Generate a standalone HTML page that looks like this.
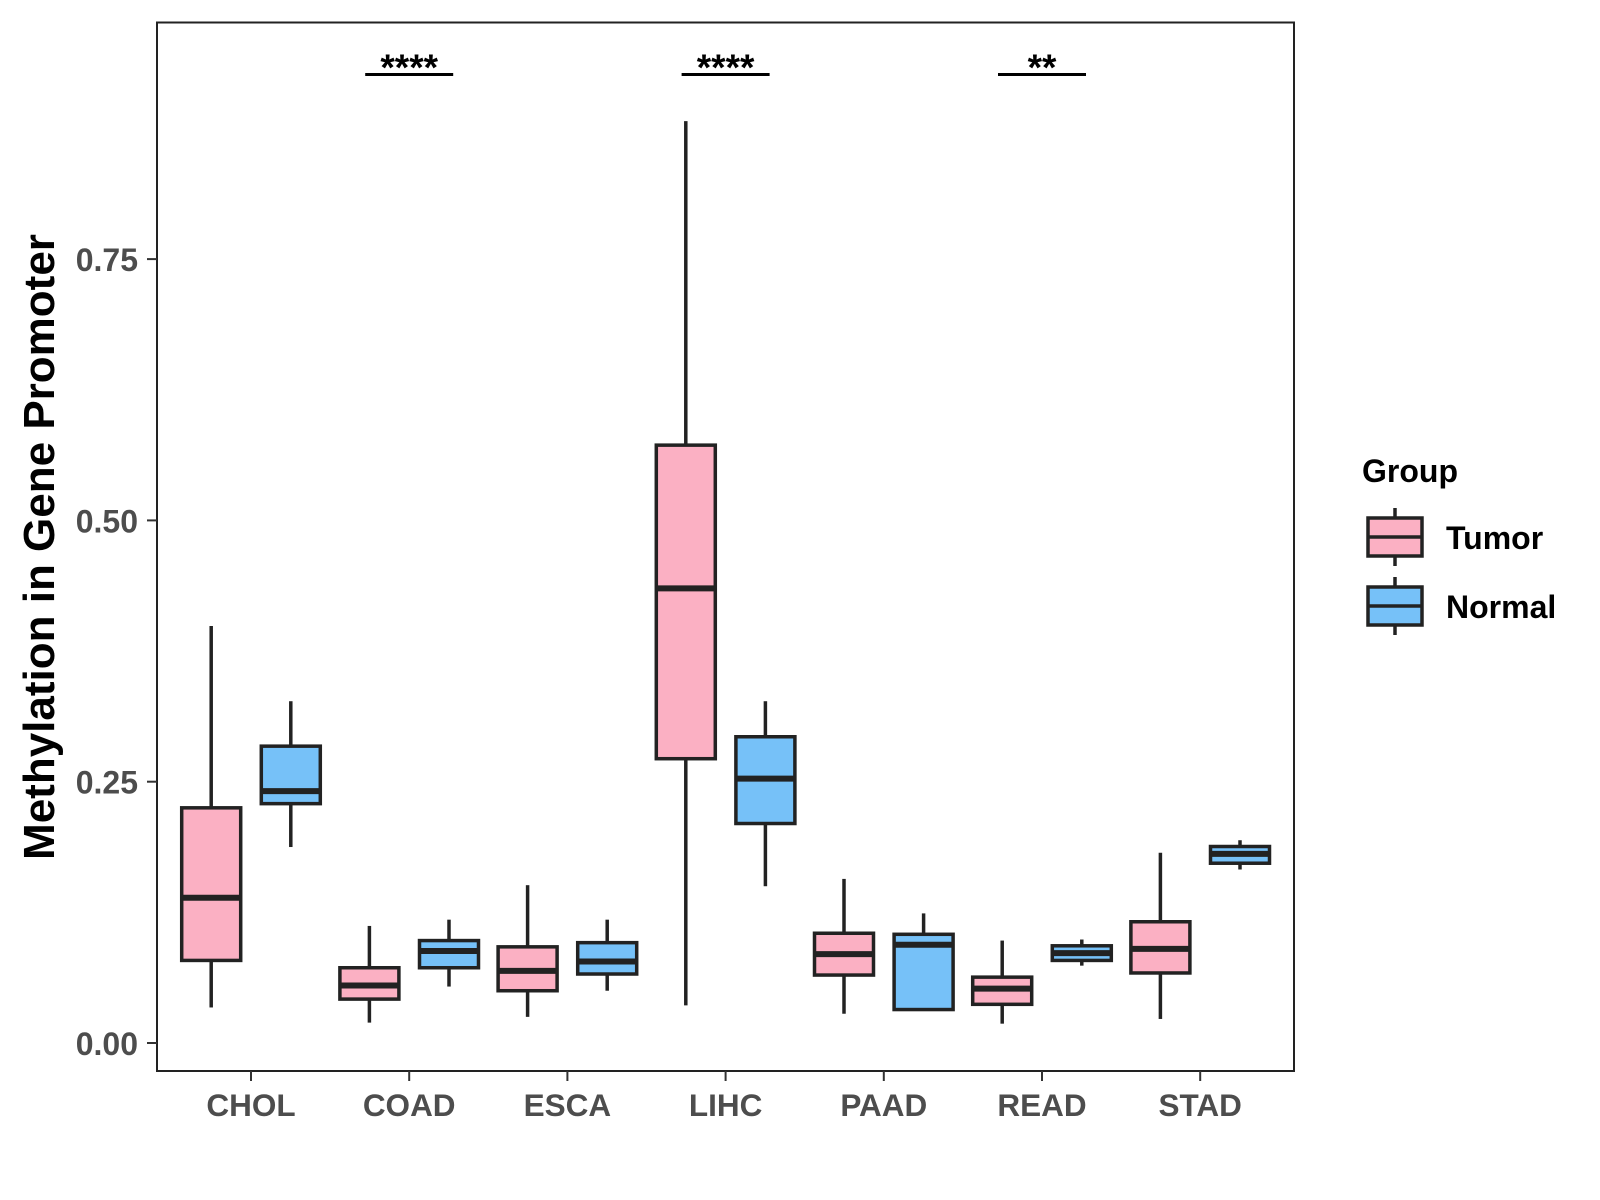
<!DOCTYPE html>
<html><head><meta charset="utf-8"><style>
html,body{margin:0;padding:0;background:#fff;}
svg{display:block;font-family:"Liberation Sans",Arial,sans-serif;font-weight:bold;}
</style></head><body>
<svg id="chart" width="1600" height="1200" xmlns="http://www.w3.org/2000/svg">
<rect width="1600" height="1200" fill="#fff"/>
<g id="plot"></g>
</svg>
<script>
const categories = ["CHOL","COAD","ESCA","LIHC","PAAD","READ","STAD"];
const tumorMin = [0.034,0.0195,0.025,0.036,0.028,0.0185,0.023];
const tumorQ1  = [0.079,0.042,0.050,0.272,0.065,0.037,0.067];
const tumorMed = [0.139,0.055,0.069,0.435,0.085,0.052,0.090];
const tumorQ3  = [0.225,0.072,0.092,0.572,0.105,0.063,0.116];
const tumorMax = [0.399,0.112,0.151,0.882,0.157,0.098,0.182];
const normalMin = [0.1875,0.054,0.050,0.150,0.032,0.074,0.166];
const normalQ1  = [0.229,0.072,0.066,0.210,0.032,0.079,0.172];
const normalMed = [0.241,0.088,0.078,0.253,0.094,0.086,0.181];
const normalQ3  = [0.284,0.098,0.096,0.293,0.104,0.093,0.188];
const normalMax = [0.327,0.118,0.118,0.327,0.124,0.099,0.194];
const yTicks = [0, 0.25, 0.5, 0.75];
const yTickLabels = ["0.00","0.25","0.50","0.75"];
const sigCats = ["COAD","LIHC","READ"];
const sigLabels = ["****","****","**"];

const NS="http://www.w3.org/2000/svg";
const g=document.getElementById('plot');
const P={l:157,t:22.5,r:1294,b:1071};
const y=v=>1043-v*1045.2;
const x=i=>251+i*158.2;
function el(tag,attrs,text){const e=document.createElementNS(NS,tag);for(const k in attrs)e.setAttribute(k,attrs[k]);if(text!==undefined)e.textContent=text;g.appendChild(e);return e;}

const panel=el('rect',{x:P.l,y:P.t,width:P.r-P.l,height:P.b-P.t,fill:'none',stroke:'#222',"stroke-width":2});



yTicks.forEach((v,i)=>{
  const t=el('line',{x1:P.l-10,x2:P.l,y1:y(v),y2:y(v),stroke:'#333',"stroke-width":2});
  
  
  const l=el('text',{x:P.l-19,y:y(v)+12,"text-anchor":"end","font-size":32,fill:'#4d4d4d'},yTickLabels[i]);
  
  
});
categories.forEach((c,i)=>{
  const t=el('line',{x1:x(i),x2:x(i),y1:P.b,y2:P.b+10,stroke:'#333',"stroke-width":2});
  
  
  const l=el('text',{x:x(i),y:P.b+45,"text-anchor":"middle","font-size":31.5,fill:'#4d4d4d'},c);
  
  
});

const W=59, off=39.8;
function box(cx,mn,q1,md,q3,mx,fill,name){
  const w1=el('line',{x1:cx,x2:cx,y1:y(mx),y2:y(q3),stroke:'#222',"stroke-width":3.5});
  
  
  const w2=el('line',{x1:cx,x2:cx,y1:y(q1),y2:y(mn),stroke:'#222',"stroke-width":3.5});
  
  
  const r=el('rect',{x:cx-W/2,y:y(q3),width:W,height:Math.max(0.5,y(q1)-y(q3)),fill:fill,stroke:'#222',"stroke-width":3.5});
  
  
  const m=el('line',{x1:cx-W/2,x2:cx+W/2,y1:y(md),y2:y(md),stroke:'#222',"stroke-width":6});
  
  
}
categories.forEach((c,i)=>{
  box(x(i)-off,tumorMin[i],tumorQ1[i],tumorMed[i],tumorQ3[i],tumorMax[i],'#fbb0c3',c.toLowerCase()+'-tumor');
  box(x(i)+off,normalMin[i],normalQ1[i],normalMed[i],normalQ3[i],normalMax[i],'#76c1f8',c.toLowerCase()+'-normal');
});
sigCats.forEach((c,k)=>{
  const i=categories.indexOf(c);
  const b=el('line',{x1:x(i)-44,x2:x(i)+44,y1:74.5,y2:74.5,stroke:'#000',"stroke-width":3});
  
  
  const t=el('text',{x:x(i),y:80,"text-anchor":"middle","font-size":37,fill:'#000'},sigLabels[k]);
  
  
});

const yt=el('text',{x:0,y:0,transform:'translate(54,547) rotate(-90)',"text-anchor":"middle","font-size":44,fill:'#000'},'Methylation in Gene Promoter');



const lt=el('text',{x:1362,y:482,"font-size":32,fill:'#000'},'Group');


[['Tumor','#fbb0c3',518],['Normal','#76c1f8',587]].forEach(([n,f,top])=>{
  const wl=el('line',{x1:1395,x2:1395,y1:top-10,y2:top+48,stroke:'#222',"stroke-width":3.5});
  
  
  const r=el('rect',{x:1368,y:top,width:54,height:38,fill:f,stroke:'#222',"stroke-width":3.5});
  
  
  const m=el('line',{x1:1368,x2:1422,y1:top+19,y2:top+19,stroke:'#222',"stroke-width":3.5});
  
  
  const t=el('text',{x:1446,y:top+31,"font-size":32,fill:'#000'},n);
  
  
});
</script>
</body></html>
